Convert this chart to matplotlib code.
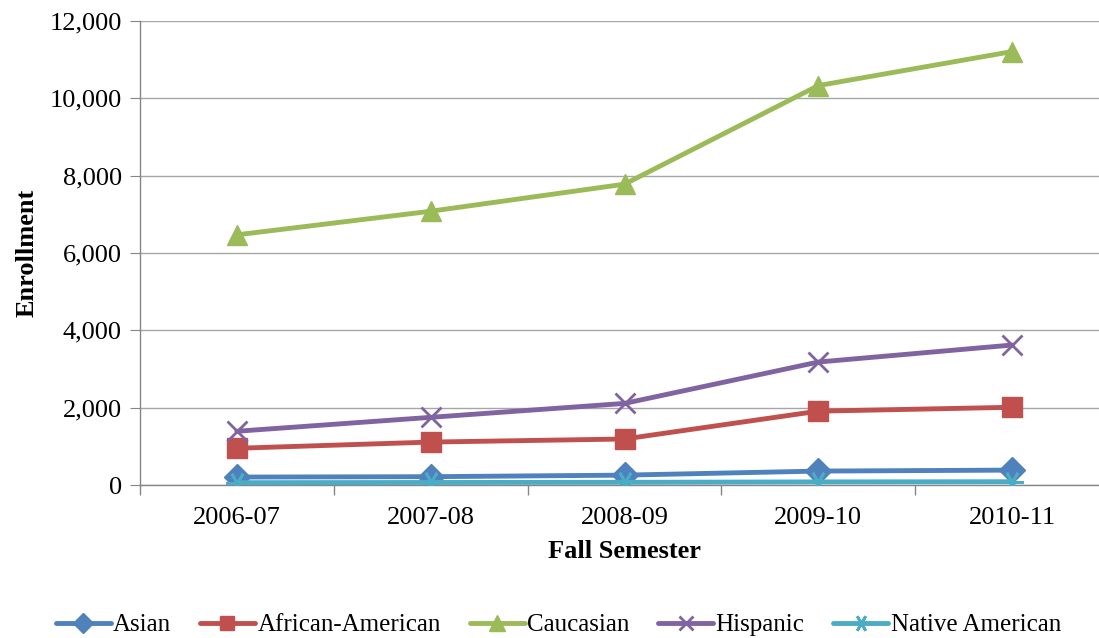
import numpy as np
import matplotlib
matplotlib.use("Agg")
import matplotlib.pyplot as plt
from matplotlib.ticker import FuncFormatter, FixedLocator

# data
semesters = ["2006-07", "2007-08", "2008-09", "2009-10", "2010-11"]
asian = [205, 215, 255, 360, 385]
african_american = [950, 1110, 1190, 1910, 2010]
caucasian = [6470, 7080, 7780, 10330, 11210]
hispanic = [1390, 1750, 2110, 3180, 3620]
native_american = [60, 65, 70, 80, 85]

plt.rcParams['font.family'] = ['Liberation Serif', 'DejaVu Serif']

fig = plt.figure(figsize=(10.99, 6.38), dpi=100)
# right edge of the plot area runs past the image, as in the original
ax = fig.add_axes([140 / 1099, 1 - 485 / 638, 969 / 1099, 464 / 638])

x = np.arange(len(semesters))
series = [
    ("Asian", asian, "#4F81BD", "D", 13),
    ("African-American", african_american, "#C0504D", "s", 14),
    ("Caucasian", caucasian, "#9BBB59", "^", 15),
    ("Hispanic", hispanic, "#8064A2", "x", 14),
    ("Native American", native_american, "#4BACC6", (6, 2, 30), 16),
]
for i, (name, vals, col, mk, ms) in enumerate(series):
    thin = mk == "x" or isinstance(mk, tuple)
    ax.plot(x, vals, color=col, lw=3.5, marker=mk, markersize=ms,
            markeredgewidth=2 if thin else 1,
            markeredgecolor=col, markerfacecolor=col, label=name,
            solid_capstyle="round", zorder=2 + i)

ax.set_xlim(-0.5, 4.5)
ax.set_ylim(0, 12000)
ax.set_yticks(np.arange(0, 12001, 2000))
ax.yaxis.set_major_formatter(FuncFormatter(lambda v, p: f"{int(v):,}"))
ax.set_xticks(x)
ax.set_xticklabels(semesters)
ax.xaxis.set_minor_locator(FixedLocator(np.arange(-0.5, 4.6, 1.0)))
ax.tick_params(axis="x", which="major", length=0, labelsize=19, pad=16)
ax.tick_params(axis="x", which="minor", length=7, color="#868686", width=1)
ax.tick_params(axis="y", length=7, color="#868686", labelsize=19, pad=6)

ax.grid(axis="y", color="#A6A6A6", lw=1)
ax.set_axisbelow(True)
for s in ["top", "right"]:
    ax.spines[s].set_visible(False)
for s in ["left", "bottom"]:
    ax.spines[s].set_color("#868686")
    ax.spines[s].set_linewidth(1)

ax.set_ylabel("Enrollment", fontsize=19, fontweight="bold", labelpad=8)
ax.set_xlabel("Fall Semester", fontsize=19, fontweight="bold", labelpad=8)

leg = fig.legend(loc="center", ncol=5, frameon=False, fontsize=18,
                 handlelength=2.2, handletextpad=0.1, columnspacing=1.15,
                 markerscale=0.75)
leg.set_bbox_to_anchor((0.508, 1 - 625 / 638), transform=fig.transFigure)

fig.savefig("out.png", dpi=100)
